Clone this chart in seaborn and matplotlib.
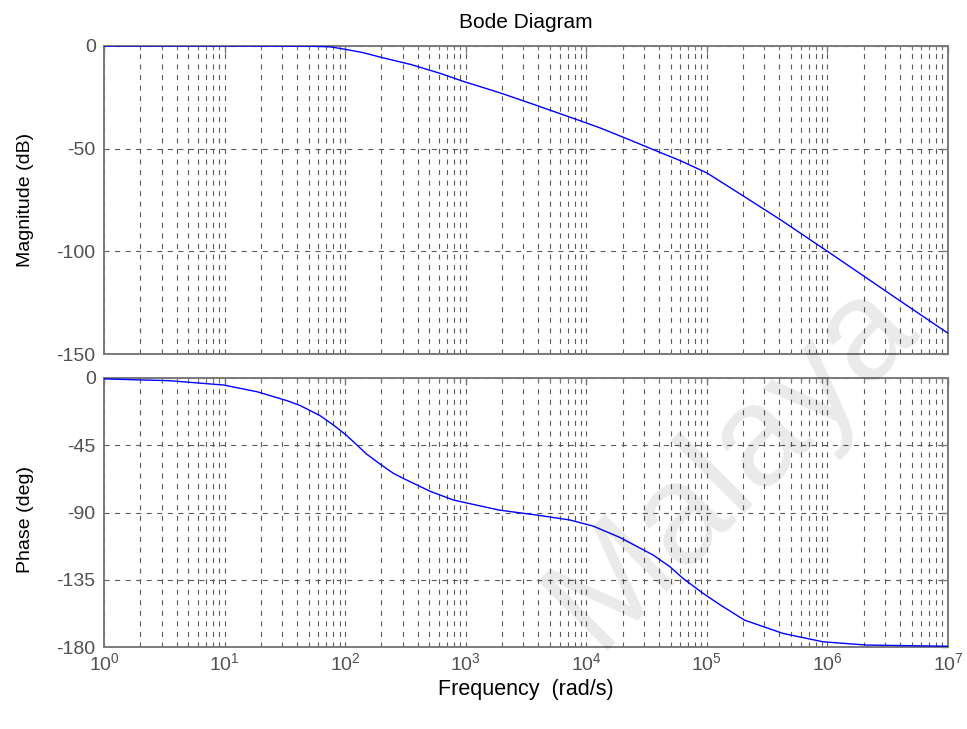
import numpy as np
import matplotlib
matplotlib.use("Agg")
import matplotlib.pyplot as plt
import matplotlib.ticker as mticker
import seaborn as sns

# ---- data ----
freq_mag = [1, 10, 50, 75, 100, 140, 195, 350, 620, 950, 1900, 3600, 9300,
            13000, 22000, 35000, 60000, 100000, 200000, 410000, 1e6, 1.95e6,
            4e6, 1e7]
mag_db = [0, 0, -0.1, -0.4, -1.6, -3.2, -5.4, -9.0, -13.4, -17.2, -22.7, -28.3,
          -36.8, -39.9, -45.3, -50.2, -55.8, -61.8, -73.0, -84.7, -100.0,
          -111.6, -124.1, -139.9]

freq_ph = [1, 3.5, 9.8, 18.6, 33, 42, 62, 80, 102, 124, 150, 195, 251, 302,
           506, 794, 1900, 3870, 7300, 11400, 19000, 35900, 49400, 63400,
           93000, 130000, 205000, 427000, 916000, 2.1e6, 1e7]
phase_deg = [-0.6, -1.8, -4.7, -9.2, -15.2, -18.3, -25.2, -31.5, -38.2, -44.5,
             -50.8, -57.6, -63.8, -67.1, -75.8, -81.7, -88.4, -91.7, -95.0,
             -99.1, -106.7, -118.5, -126.3, -134.1, -144.1, -152.0, -162.0,
             -170.9, -176.5, -178.7, -179.5]

mag_ticks = [0, -50, -100, -150]
phase_ticks = [0, -45, -90, -135, -180]
x_ticks = [1e0, 1e1, 1e2, 1e3, 1e4, 1e5, 1e6, 1e7]
x_ticklabels = [r"$10^{%d}$" % i for i in range(8)]

sns.set_style("white")
plt.rcParams["font.family"] = ["Liberation Sans", "DejaVu Sans"]
plt.rcParams["mathtext.fontset"] = "custom"
plt.rcParams["mathtext.rm"] = "Liberation Sans"
plt.rcParams["mathtext.it"] = "Liberation Sans"
plt.rcParams["mathtext.default"] = "regular"

fig = plt.figure(figsize=(9.67, 7.29), dpi=100)
W, H = 967, 729
left, right = 104 / W, 948 / W
ax1 = fig.add_axes([left, 1 - 354 / H, right - left, (354 - 46) / H])
ax2 = fig.add_axes([left, 1 - 647 / H, right - left, (647 - 378) / H])

spine_col = "#7a7a7a"
grid_col = "#5a5a5a"
tick_col = "#505050"
dash = (0, (4.5, 5.0))

for ax, x, y, yt, ylab, ly in [(ax1, freq_mag, mag_db, mag_ticks, "Magnitude (dB)", 0.5),
                               (ax2, freq_ph, phase_deg, phase_ticks, "Phase (deg)", 0.475)]:
    sns.lineplot(x=x, y=y, ax=ax, color="#0000ff", linewidth=1.0, zorder=5)
    ax.set_xscale("log")
    ax.set_xlim(1, 1e7)
    ax.set_ylim(min(yt), max(yt))
    ax.set_yticks(yt)
    ax.set_yticklabels([str(v) for v in yt])
    ax.xaxis.set_major_locator(mticker.FixedLocator(x_ticks))
    ax.xaxis.set_minor_locator(mticker.LogLocator(base=10, subs=range(2, 10), numticks=100))
    ax.xaxis.set_minor_formatter(mticker.NullFormatter())
    ax.grid(True, which="major", axis="both", linestyle=dash,
            color=grid_col, linewidth=0.8)
    ax.grid(True, which="minor", axis="x", linestyle=dash,
            color=grid_col, linewidth=0.8)
    ax.tick_params(which="both", direction="in", top=True, right=True,
                   color=spine_col, labelcolor=tick_col, labelsize=14)
    ax.tick_params(which="major", length=5, width=1)
    ax.tick_params(which="minor", length=3, width=0.8)
    ax.tick_params(axis="y", pad=6)
    for s in ax.spines.values():
        s.set_color(spine_col)
        s.set_linewidth(1.4)
        s.set_visible(True)
    ax.set_ylabel(ylab, fontsize=14, color="black")
    ax.yaxis.set_label_coords(-0.083, ly)

ax1.set_xticklabels([])
ax1.set_xlabel("")
ax2.set_xticklabels(x_ticklabels)
ax2.tick_params(axis="x", pad=4)
ax2.set_xlabel("Frequency  (rad/s)", fontsize=15.5, color="black", labelpad=3)
ax1.set_title("Bode Diagram", fontsize=15, color="black", pad=13)

# faint diagonal watermark
fig.text(919 / W, 1 - 328 / H, "Malaya", fontsize=102, color="black",
         alpha=0.085, rotation=45, rotation_mode="anchor", ha="right",
         va="baseline", zorder=20)

fig.savefig("out.png", dpi=100, facecolor="white")
